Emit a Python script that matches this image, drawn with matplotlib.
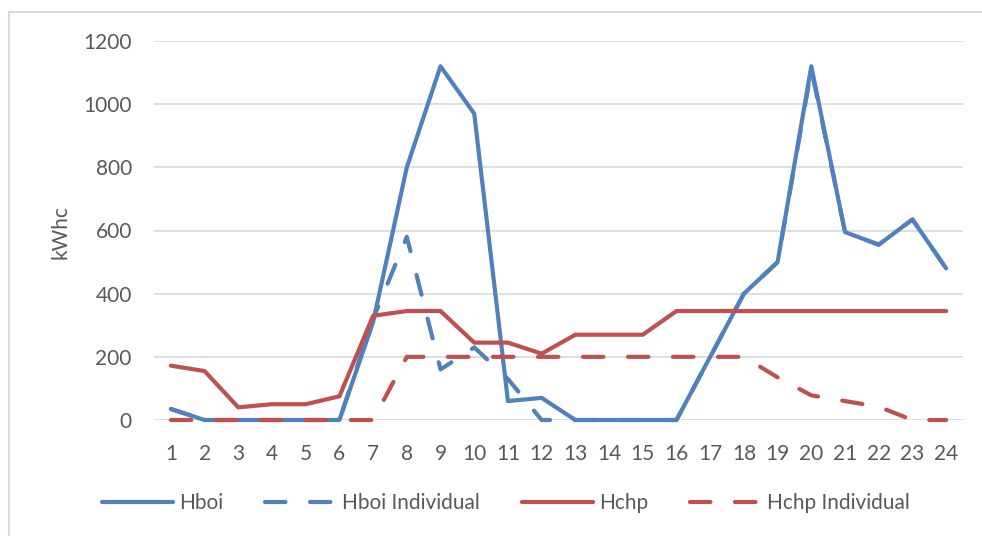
import matplotlib
matplotlib.use("Agg")
import matplotlib.pyplot as plt
from matplotlib.lines import Line2D
from matplotlib.patches import Rectangle

plt.rcParams["font.family"] = ["Lato", "DejaVu Sans"]

# hourly heat output, kWhc
hours = list(range(1, 25))
hboi = [35, 0, 0, 0, 0, 0, 310, 800, 1120, 970, 60, 70,
        0, 0, 0, 0, 200, 400, 500, 1120, 595, 555, 635, 480]
hboi_ind = [35, 0, 0, 0, 0, 0, 320, 580, 160, 230, 130, 0,
            0, 0, 0, 0, 200, 400, 500, 1110, 595, 555, 635, 480]
hchp = [172, 155, 40, 50, 50, 75, 330, 345, 345, 245, 245, 210,
        270, 270, 270, 345, 345, 345, 345, 345, 345, 345, 345, 345]
hchp_ind = [0, 0, 0, 0, 0, 0, 0, 200, 200, 200, 200, 200,
            200, 200, 200, 200, 200, 200, 135, 78, 60, 42, 0, 0]

y_ticks = [0, 200, 400, 600, 800, 1000, 1200]

BLUE = "#4f81bd"
RED = "#c0504d"
GRID = "#d9d9d9"
TXT = "#595959"
LW = 3.0
DASH = (4.9, 5.9)
FS = 15

fig = plt.figure(figsize=(9.82, 5.36), dpi=100)
ax = fig.add_axes([154 / 982, 1 - 420 / 536, 809 / 982, 379 / 536])

series = [
    (hboi, BLUE, "-", "Hboi"),
    (hboi_ind, BLUE, "--", "Hboi Individual"),
    (hchp, RED, "-", "Hchp"),
    (hchp_ind, RED, "--", "Hchp Individual"),
]
handles = []
for vals, col, ls, name in series:
    kw = dict(color=col, lw=LW, solid_capstyle="round", solid_joinstyle="round",
              dash_capstyle="round", clip_on=False, zorder=3)
    if ls == "--":
        kw["dashes"] = DASH
    ax.plot(hours, vals, **kw)
    handles.append(Line2D([], [], label=name, **{k: v for k, v in kw.items()
                                                  if k not in ("clip_on", "zorder")}))

ax.set_xlim(0.5, 24.5)
ax.set_ylim(0, 1200)
ax.set_xticks(hours)
ax.set_yticks(y_ticks)
ax.grid(axis="y", color=GRID, lw=1.2, zorder=0)
ax.set_axisbelow(True)
for s in ax.spines.values():
    s.set_visible(False)
ax.tick_params(axis="both", length=0, labelsize=FS, labelcolor=TXT)
ax.tick_params(axis="x", pad=17)
ax.tick_params(axis="y", pad=16)

fig.text(60 / 982, 1 - 232 / 536, "kWhc", rotation=90, ha="center", va="center",
         fontsize=FS, color=TXT)

leg = fig.legend(handles=handles, loc="center", bbox_to_anchor=(506 / 982, 1 - 503 / 536),
                 ncol=4, frameon=False, fontsize=FS, handlelength=3.4,
                 handletextpad=0.3, columnspacing=2.0, borderpad=0)
for t in leg.get_texts():
    t.set_color(TXT)

# chart frame
fig.patches.append(Rectangle((9 / 982, -0.1), 2, 1 - 12 / 536 + 0.1, fill=False,
                             ec=GRID, lw=1.5, transform=fig.transFigure))

fig.savefig("out.png", dpi=100, facecolor="white")
